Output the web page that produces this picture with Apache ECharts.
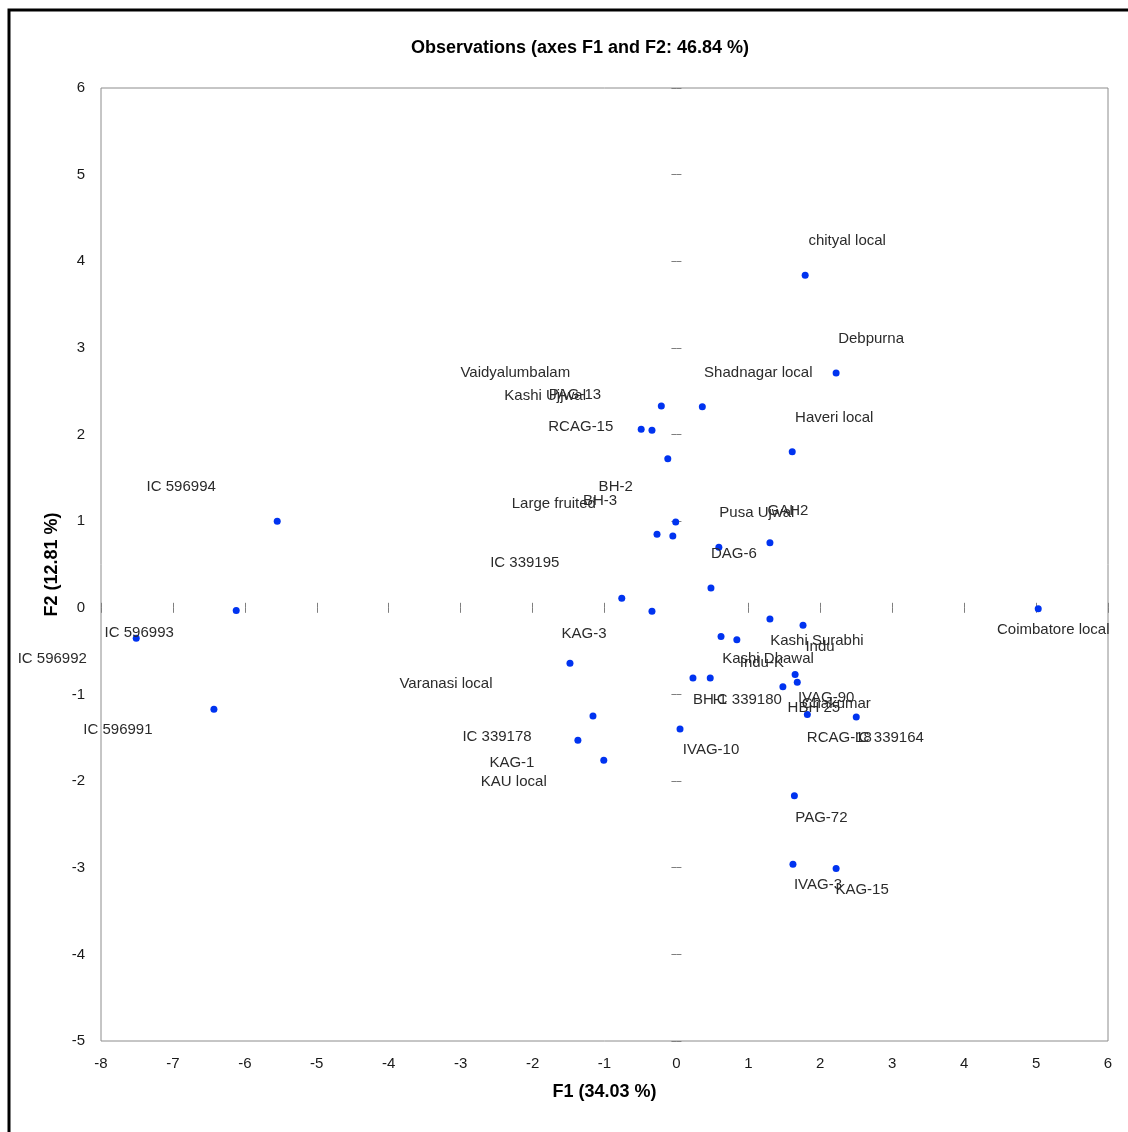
<!DOCTYPE html>
<html>
<head>
<meta charset="utf-8">
<style>
  html, body { margin: 0; padding: 0; background: #fff; }
  #chart { width: 1128px; height: 1132px; }
</style>
<script src="https://cdn.jsdelivr.net/npm/echarts@6/dist/echarts.min.js"></script>
</head>
<body>
<div id="chart"></div>
<script>
// ---- data ----
const names = [
  'chityal local', 'Debpurna', 'Shadnagar local', 'Vaidyalumbalam', 'Kashi Ujjwal',
  'PAG-13', 'RCAG-15', 'Haveri local', 'IC 596994', 'BH-2',
  'BH-3', 'Large fruited', 'GAH2', 'Pusa Ujwal', 'DAG-6',
  'IC 339195', 'KAG-3', 'IC 596993', 'Coimbatore local', 'IC 596992',
  'Kashi Surabhi', 'Indu', 'Kashi Dhawal', 'Indu-K', 'Varanasi local',
  'IVAG-90', 'Chakumar', 'HBH 25', 'BH-1', 'IC 339180',
  'IC 596991', 'IC 339178', 'IC 339164', 'RCAG-18', 'KAG-1',
  'IVAG-10', 'KAU local', 'PAG-72', 'IVAG-3', 'KAG-15'
];
const f1 = [
  1.79, 2.22, 0.36, -0.21, -0.49,
  -0.34, -0.12, 1.61, -5.55, -0.01,
  -0.27, -0.05, 1.30, 0.59, 0.48,
  -0.76, -0.34, -6.12, 5.03, -7.51,
  1.30, 1.76, 0.62, 0.84, -1.48,
  1.65, 1.68, 1.48, 0.23, 0.47,
  -6.43, -1.16, 2.50, 1.82, -1.37,
  0.05, -1.01, 1.64, 1.62, 2.22
];
const f2 = [
  3.84, 2.71, 2.32, 2.33, 2.06,
  2.05, 1.72, 1.80, 1.00, 0.99,
  0.85, 0.83, 0.75, 0.70, 0.23,
  0.11, -0.04, -0.03, -0.01, -0.35,
  -0.13, -0.20, -0.33, -0.37, -0.64,
  -0.77, -0.86, -0.91, -0.81, -0.81,
  -1.17, -1.25, -1.26, -1.23, -1.53,
  -1.40, -1.76, -2.17, -2.96, -3.01
];
const titleText = 'Observations (axes F1 and F2: 46.84 %)';
const xName = 'F1 (34.03 %)';
const yName = 'F2 (12.81 %)';
const xMin = -8, xMax = 6, yMin = -5, yMax = 6, tickStep = 1;

// ---- label placement (style: pixel offsets of each label from its point) ----
const labelDx = [
  42, 35, 56, -146, -96,
  -77, -87, 42, -96, -60,
  -57, -119, 18, 38, 23,
  -97, -68, -97, 15, -84,
  47, 17, 47, 25, -124,
  31, 39, 31, 17, 37,
  -96, -96, 33, 32, -66,
  31, -90, 27, 25, 26
];
const labelDy = [
  -34, -34, -34, -33, -33,
  -35, -32, -34, -34, -35,
  -33, -32, -32, -34, -34,
  -35, 23, 22, 21, 21,
  22, 22, 22, 23, 21,
  23, 22, 21, 22, 22,
  21, 21, 21, 23, 22,
  21, 22, 22, 21, 21
];

const FONT = 'Liberation Sans';
const pointData = names.map((n, i) => ({
  name: n,
  value: [f1[i], f2[i]],
  label: { offset: [labelDx[i], labelDy[i]] }
}));

// tick positions on the crossing axes (every step, origin left empty as in the reference)
function tickValues(min, max) {
  const out = [];
  for (let v = min; v <= max; v += tickStep) { if (v !== 0) out.push(v); }
  return out;
}

const tickColor = '#7f7f7f';
function zeroAxis(min, max, position) {
  return {
    type: 'value', min: min, max: max, interval: tickStep, position: position,
    axisLine: { show: true, onZero: true, onZeroAxisIndex: 0, lineStyle: { color: tickColor, opacity: 0 } },
    axisTick: { show: true, length: 5, customValues: tickValues(min, max), lineStyle: { color: tickColor, width: 1 } },
    axisLabel: { show: false }, splitLine: { show: false }
  };
}

const chart = echarts.init(document.getElementById('chart'), null, { renderer: 'canvas' });
chart.setOption({
  backgroundColor: '#ffffff',
  animation: false,
  title: {
    text: titleText, left: 575, top: 34, textAlign: 'center',
    textStyle: { fontFamily: FONT, fontSize: 18, fontWeight: 'bold', color: '#000' }
  },
  graphic: [{
    type: 'rect', silent: true, z: 100,
    shape: { x: 9, y: 10, width: 1300, height: 1300 },
    style: { fill: 'none', stroke: '#000', lineWidth: 3 }
  }],
  grid: {
    left: 101, right: 20, top: 88, bottom: 91,
    show: true, borderColor: '#8c8c8c', borderWidth: 1, containLabel: false
  },
  xAxis: [
    {
      type: 'value', min: xMin, max: xMax, interval: tickStep, position: 'bottom',
      axisLine: { show: false, onZero: false }, axisTick: { show: false }, splitLine: { show: false },
      axisLabel: { margin: 15, fontFamily: FONT, fontSize: 15, color: '#1a1a1a' },
      name: xName, nameLocation: 'middle', nameGap: 42,
      nameTextStyle: { fontFamily: FONT, fontSize: 18, fontWeight: 'bold', color: '#000' }
    },
    zeroAxis(xMin, xMax, 'bottom'),
    zeroAxis(xMin, xMax, 'top')
  ],
  yAxis: [
    {
      type: 'value', min: yMin, max: yMax, interval: tickStep, position: 'left',
      axisLine: { show: false, onZero: false }, axisTick: { show: false }, splitLine: { show: false },
      axisLabel: { margin: 16, fontFamily: FONT, fontSize: 15, color: '#1a1a1a' },
      name: yName, nameLocation: 'middle', nameGap: 37,
      nameTextStyle: { fontFamily: FONT, fontSize: 18, fontWeight: 'bold', color: '#000' }
    },
    zeroAxis(yMin, yMax, 'left'),
    zeroAxis(yMin, yMax, 'right')
  ],
  series: [{
    type: 'scatter',
    xAxisIndex: 0, yAxisIndex: 0,
    symbol: 'circle', symbolSize: 7,
    itemStyle: { color: '#0033f0', opacity: 1 },
    clip: false,
    label: {
      show: true, position: 'inside', formatter: '{b}',
      fontFamily: FONT, fontSize: 15, color: '#2b2b2b', opacity: 1
    },
    data: pointData
  }]
});
</script>
</body>
</html>
